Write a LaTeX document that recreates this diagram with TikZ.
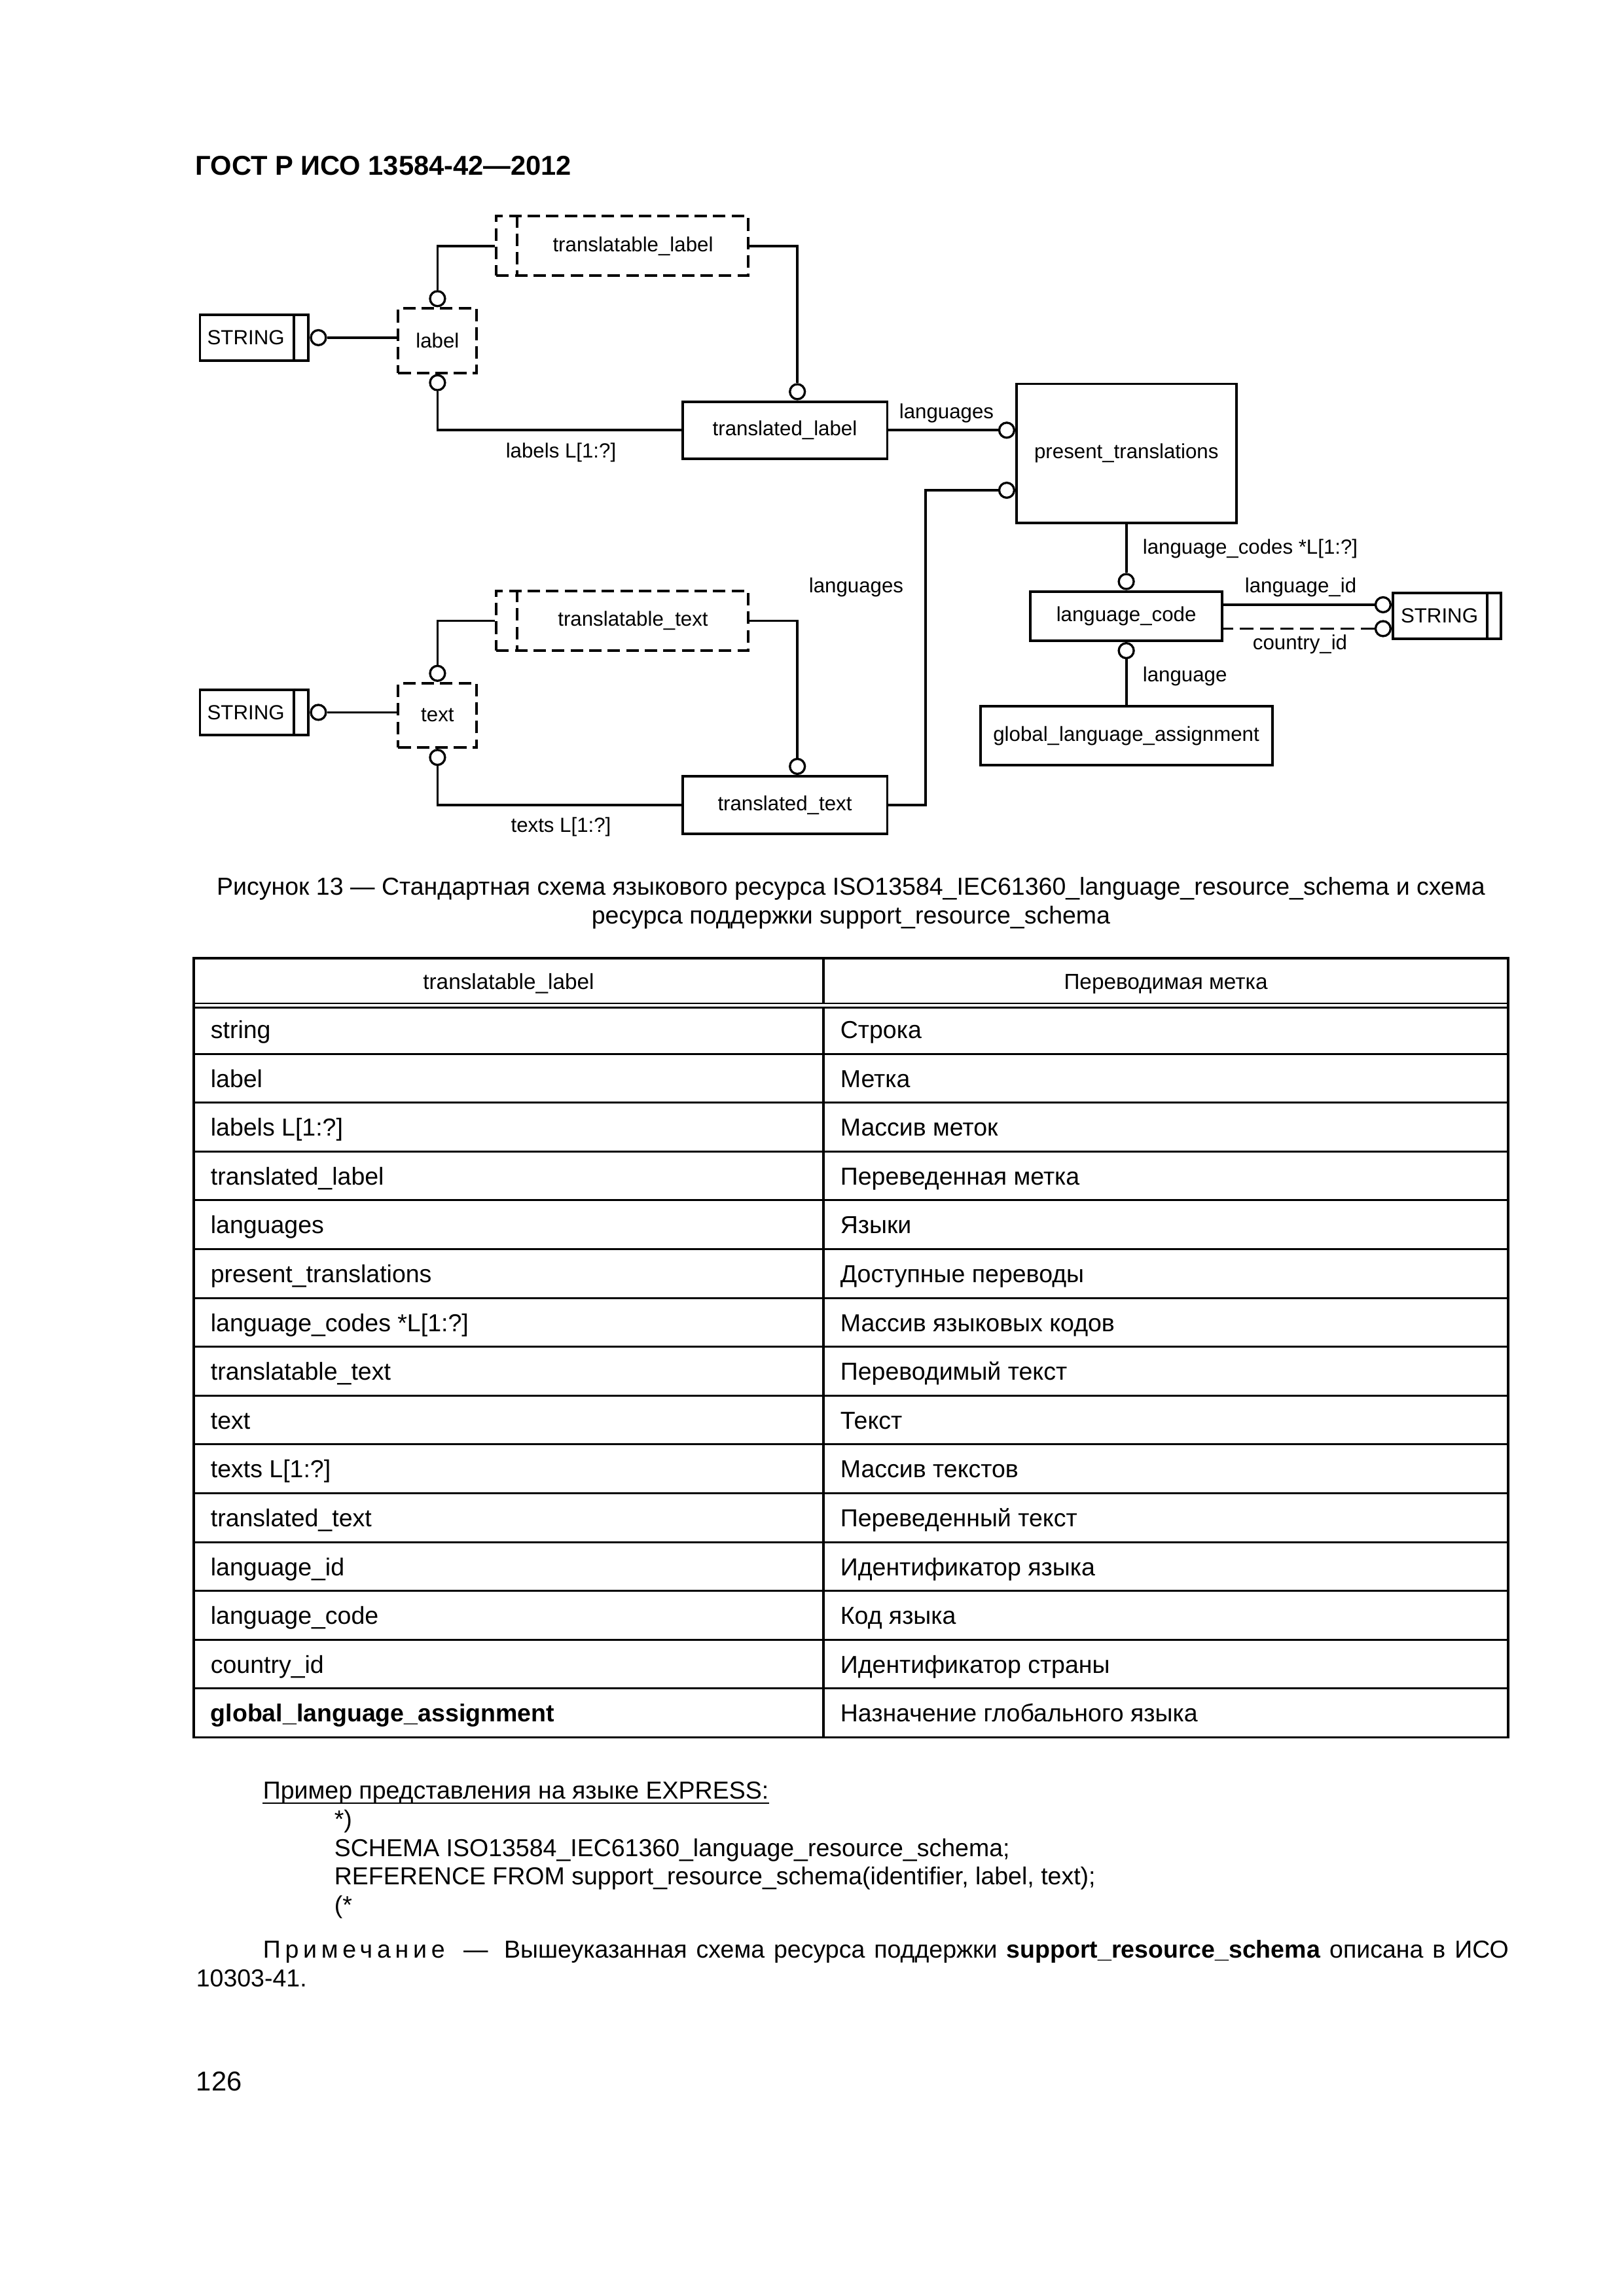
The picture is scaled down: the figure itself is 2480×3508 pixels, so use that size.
\documentclass[tikz,border=0pt]{standalone}
\usepackage{fontspec}
\setmainfont{Liberation Sans}
\usetikzlibrary{calc}
\begin{document}
\begin{tikzpicture}[x=0.24pt,y=-0.24pt,
  ent/.style={draw, line width=0.95pt, inner sep=0pt, font=\fontsize{7.5}{9}\selectfont},
  dent/.style={ent, dash pattern=on 4.6pt off 2.2pt},
  dline/.style={line width=0.95pt, dash pattern=on 4.6pt off 2.2pt},
  sline/.style={line width=0.95pt},
  conn/.style={line width=0.9pt},
  dconn/.style={line width=0.9pt, dash pattern=on 5pt off 2.4pt},
  circ/.style={circle, draw, fill=white, line width=0.8pt, minimum size=5.5pt, inner sep=0pt},
  dtxt/.style={inner sep=0pt, font=\fontsize{7.5}{9}\selectfont},
  tline/.style={line width=0.75pt},
  tthin/.style={line width=0.55pt},
  tb/.style={inner sep=0pt, font=\fontsize{9}{10.5}\selectfont},
  th/.style={inner sep=0pt, font=\fontsize{8}{9.5}\selectfont},
  body/.style={inner sep=0pt, font=\fontsize{9}{10.5}\selectfont},
]
\useasboundingbox (0,0) rectangle (2480,3508);

% header
\node[anchor=base west, inner sep=0pt, font=\fontsize{10}{12}\selectfont\bfseries] (hdr) at (298,268) {ГОСТ Р ИСО 13584-42—2012};

% ---------- upper group ----------
\node[dent, minimum width=92.3pt, minimum height=21.84pt] (tlabel) at (950.6,375.9) {};
\draw[dline] ([xshift=7.97pt]tlabel.north west) -- ([xshift=7.97pt]tlabel.south west);
\node[dtxt] (tlabeltxt) at (967,376) {translatable\_label};

\node[dent, minimum width=28.78pt, minimum height=23.57pt] (label) at (668.4,520.5) {label};

\node[ent, minimum width=39.8pt, minimum height=16.73pt] (str1) at (388.4,515.9) {};
\draw[sline] ([xshift=-5.8pt]str1.north east) -- ([xshift=-5.8pt]str1.south east);
\node[dtxt] (str1txt) at (375.6,516) {STRING};

\node[ent, minimum width=75.12pt, minimum height=21pt] (trlabel) at (1199,657.3) {translated\_label};

% ---------- right group ----------
\node[ent, minimum width=80.52pt, minimum height=50.93pt] (pres) at (1720.8,692.6) {present\_translations};
\node[ent, minimum width=70.32pt, minimum height=18.1pt] (lcode) at (1720.6,941.3) {language\_code};
\node[ent, minimum width=39.6pt, minimum height=16.87pt] (str2) at (2210.5,940.9) {};
\draw[sline] ([xshift=-5.5pt]str2.north east) -- ([xshift=-5.5pt]str2.south east);
\node[dtxt] (str2txt) at (2199,941) {STRING};
\node[ent, minimum width=107.04pt, minimum height=21.4pt] (gla) at (1720.6,1124) {global\_language\_assignment};

% ---------- lower group ----------
\node[dent, minimum width=92.3pt, minimum height=21.84pt] (ttext) at (950.6,948.4) {};
\draw[dline] ([xshift=7.97pt]ttext.north west) -- ([xshift=7.97pt]ttext.south west);
\node[dtxt] (ttexttxt) at (967,948.5) {translatable\_text};

\node[dent, minimum width=28.78pt, minimum height=23.57pt] (text) at (668.4,1093) {text};

\node[ent, minimum width=39.8pt, minimum height=16.73pt] (str3) at (388.4,1088.4) {};
\draw[sline] ([xshift=-5.8pt]str3.north east) -- ([xshift=-5.8pt]str3.south east);
\node[dtxt] (str3txt) at (375.6,1088.5) {STRING};

\node[ent, minimum width=75.12pt, minimum height=21pt] (trtext) at (1199,1229.8) {translated\_text};

% ---------- circles and connectors ----------
\node[circ, anchor=west] (c1) at (str1.east) {};
\draw[conn] (c1.east) -- (c1.east -| label.west);
\node[circ, anchor=south] (c2) at (label.north) {};
\draw[conn] (c2.north) |- (tlabel.west);
\node[circ, anchor=north] (c3) at (label.south) {};
\draw[conn] (c3.south) |- (trlabel.west);
\node[circ, anchor=south] (c4) at ([xshift=4.6pt]trlabel.north) {};
\draw[conn] (tlabel.east) -| (c4.north);
\node[circ, anchor=east] (c5) at (pres.west |- trlabel.east) {};
\draw[conn] (trlabel.east) -- (c5.west);
\node[circ, anchor=east] (c6) at ([yshift=-13.54pt]pres.west) {};
\coordinate (j1) at (1414,0);
\draw[conn] (trtext.east) -| (j1 |- c6.west) -- (c6.west);
\node[circ, anchor=south] (c7) at (lcode.north) {};
\draw[conn] (c7.north) -- (c7.north |- pres.south);
\node[circ, anchor=east] (c8) at ([yshift=4.06pt]str2.west) {};
\draw[conn] (c8.west) -- (c8.west -| lcode.east);
\node[circ, anchor=east] (c9) at ([yshift=-4.7pt]str2.west) {};
\draw[dconn] (c9.west) -- (c9.west -| lcode.east);
\node[circ, anchor=north] (c10) at (lcode.south) {};
\draw[conn] (c10.south) -- (c10.south |- gla.north);

\node[circ, anchor=west] (c11) at (str3.east) {};
\draw[conn] (c11.east) -- (c11.east -| text.west);
\node[circ, anchor=south] (c12) at (text.north) {};
\draw[conn] (c12.north) |- (ttext.west);
\node[circ, anchor=north] (c13) at (text.south) {};
\draw[conn] (c13.south) |- (trtext.west);
\node[circ, anchor=south] (c14) at ([xshift=4.6pt]trtext.north) {};
\draw[conn] (ttext.east) -| (c14.north);

% ---------- connector labels ----------
\node[dtxt] (l1) at (857,691) {labels L[1:?]};
\node[dtxt] (l2) at (1446,631) {languages};
\node[dtxt] (l3) at (1308,897) {languages};
\node[dtxt, anchor=west] (l4) at (1745,838) {language\_codes *L[1:?]};
\node[dtxt] (l5) at (1987,897) {language\_id};
\node[dtxt] (l6) at (1986,984.5) {country\_id};
\node[dtxt, anchor=west] (l7) at (1745,1033) {language};
\node[dtxt] (l8) at (857,1263.5) {texts L[1:?]};

% ---------- caption ----------
\node[anchor=base, body] (cap1) at (1300,1367) {Рисунок 13 — Стандартная схема языкового ресурса ISO13584\_IEC61360\_language\_resource\_schema и схема};
\node[anchor=base, body] (cap2) at (1300,1411) {ресурса поддержки support\_resource\_schema};

% ---------- table ----------
\draw[tline] (296,1464) rectangle (2304,2654.5);
\draw[tthin] (296,1533) -- (2304,1533);
\draw[tthin] (296,1539.5) -- (2304,1539.5);
\draw[tline] (1258,1464) -- (1258,1533);
\draw[tline] (1258,1539.5) -- (1258,2654.5);
\foreach \k in {1,...,14} {
  \pgfmathsetmacro\yy{1535.5+74.6*\k}
  \draw[tline] (296,\yy) -- (2304,\yy);
}
\node[th, anchor=base] (h1) at (777,1511) {translatable\_label};
\node[th, anchor=base] (h2) at (1781,1511) {Переводимая метка};
\foreach \a/\b [count=\k] in {
  string/Строка,
  label/Метка,
  labels L[1:?]/Массив меток,
  translated\_label/Переведенная метка,
  languages/Языки,
  present\_translations/Доступные переводы,
  language\_codes *L[1:?]/Массив языковых кодов,
  translatable\_text/Переводимый текст,
  text/Текст,
  texts L[1:?]/Массив текстов,
  translated\_text/Переведенный текст,
  language\_id/Идентификатор языка,
  language\_code/Код языка,
  country\_id/Идентификатор страны,
  \textbf{global\_language\_assignment}/Назначение глобального языка} {
  \pgfmathsetmacro\yb{1586.5+74.6*(\k-1)}
  \node[tb, anchor=base west] (ta\k) at (321,\yb) {\a};
  \node[tb, anchor=base west] (tb\k) at (1283,\yb) {\b};
}

% ---------- text below ----------
\node[body, anchor=base west] (ex) at (401,2748) {Пример представления на языке EXPRESS:};
\draw[line width=0.6pt] ($(ex.base west)+(0,7)$) -- ($(ex.base east)+(0,7)$);
\node[body, anchor=base west] (e1) at (510,2792) {*)};
\node[body, anchor=base west] (e2) at (510,2836) {SCHEMA ISO13584\_IEC61360\_language\_resource\_schema;};
\node[body, anchor=base west] (e3) at (510,2879) {REFERENCE FROM support\_resource\_schema(identifier, label, text);};
\node[body, anchor=base west] (e4) at (510,2923) {(*};

\node[body, anchor=base west] (n1) at (401,2991) {\makebox[456.7pt][s]{{\addfontfeature{LetterSpace=18}Примечание}\hspace{3.5pt} — \hspace{2.5pt}Вышеуказанная схема ресурса поддержки \textbf{support\_resource\_schema} описана в ИСО}};
\node[body, anchor=base west] (n2) at (299,3035) {10303-41.};

\node[inner sep=0pt, anchor=base west, font=\fontsize{10}{12}\selectfont] (pg) at (299,3194.6) {126};
\end{tikzpicture}
\end{document}
